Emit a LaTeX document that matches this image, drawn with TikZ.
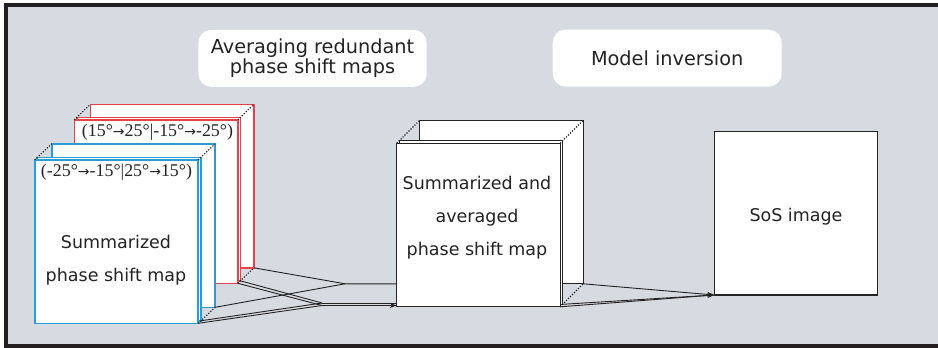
\documentclass[tikz,border=0pt]{standalone}
\usepackage{fontspec}
\setmainfont{DejaVu Sans}
\newfontfamily\lblfont{Liberation Serif}
\newfontfamily\arrfont{DejaVu Sans}
\newcommand\myra{{\arrfont\fontsize{14}{14}\selectfont →}}
\usetikzlibrary{arrows.meta,calc}
\definecolor{bgc}{RGB}{214,219,225}
\definecolor{frm}{RGB}{35,31,32}
\definecolor{bl}{RGB}{41,155,215}
\definecolor{rd}{RGB}{232,64,72}
\definecolor{ink}{RGB}{35,35,35}
\tikzset{
  face/.style={draw, fill=white, line width=1.2pt, inner sep=0pt, outer sep=0pt,
    minimum width=163.5pt, minimum height=163.5pt, anchor=north west},
  dotline/.style={line width=1.1pt, dash pattern=on 1.2pt off 1.6pt, draw=ink},
  conn/.style={line width=0.9pt, draw=ink},
  arr/.style={conn, -{Stealth[length=7pt,width=5pt]}},
  titlebox/.style={fill=white, rounded corners=13pt, inner sep=0pt, minimum height=57pt,
    font=\fontsize{19.3}{18}\selectfont, align=center, text=ink},
  boxtext/.style={font=\fontsize{17.5}{33}\selectfont, align=center, text=ink},
  lbl/.style={font=\lblfont\fontsize{17.9}{20}\selectfont, anchor=base, text=ink, inner sep=0pt},
}
\newcommand\slabdraw[7]{%
  \node[face, draw=#6, line width=#7] (#1b) at ({#2+#4},{#3+#5}) {};
  \node[face, draw=#6, line width=#7] (#1t) at ({#2+2.5},{#3-2.5}) {};
  \node[face, draw=#6, line width=#7] (#1f) at (#2,#3) {};
  \draw[dotline] (#1f.north west) -- (#1b.north west)
                 (#1f.north east) -- (#1b.north east)
                 (#1f.south east) -- (#1b.south east);
}
\begin{document}
\begin{tikzpicture}[x=1pt,y=-1pt]
\useasboundingbox (0,0) rectangle (938,348);
\clip (0,0) rectangle (938,348);
\fill[white] (0,0) rectangle (938,348);
\draw[frm, line width=4pt, fill=bgc] (6,5) rectangle (960,346);

% titles
\node[titlebox, minimum width=228.4pt] (t1) at (312.5,58.3) {Averaging redundant\\phase shift maps};
\node[titlebox, minimum width=229pt] (t2) at (667.2,58.1) {Model inversion};

% stacked maps
\slabdraw{red}{74.3}{119.8}{16}{-15.5}{rd}{1.6pt}
\node[lbl] (redl) at (157.5,136.7) {(15°\myra25°|-15°\myra-25°)};
\slabdraw{blu}{34.7}{159.8}{17}{-16}{bl}{1.6pt}
\node[lbl] (blul) at (116.5,176) {(-25°\myra-15°|25°\myra15°)};
\node[boxtext] (blutext) at (116,260.5) {Summarized\\phase shift map};

% junctions
\coordinate (J1) at (345,283.8);
\coordinate (J2) at (322,305.5);
\coordinate (J2u) at (322,303);

\draw[conn] (redb.south east) -- (J1) -- (419.7,283.8);
\draw[conn] (blub.south east) -- (J1);

% averaged map
\slabdraw{avg}{396.7}{143.3}{23}{-23}{ink}{1.2pt}
\node[boxtext] (avgtext) at (477,218) {Summarized and\\averaged\\phase shift map};

\draw[conn] (redf.south east) -- (J2);
\draw[conn] (redt.south east) -- (J2u);
\draw[conn] (bluf.south east) -- (J2);
\draw[conn] (blut.south east) -- (J2u);
\draw[conn] (J2u) -- (J2u -| avgf.west);
\draw[arr] (J2) -- (J2 -| avgf.west);

% SoS image
\node[face, draw=ink] (sos) at (714.3,131.5) {};
\node[boxtext] (sostext) at (796,217) {SoS image};

\draw[conn] (avgt.south east) -- (sos.south west);
\draw[arr] (avgb.south east) -- (sos.south west);
\draw[arr] (avgf.south east) -- (sos.south west);
\end{tikzpicture}
\end{document}
